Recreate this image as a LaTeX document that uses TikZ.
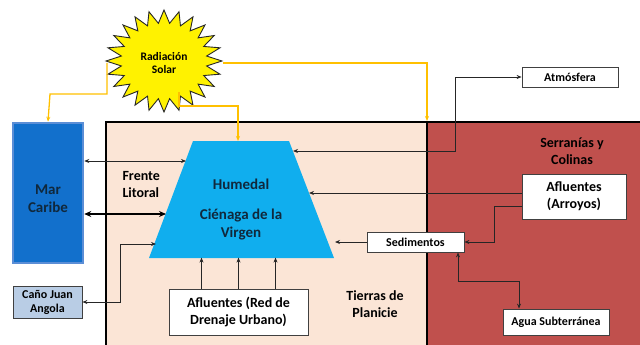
\documentclass[tikz,border=0pt]{standalone}
\usepackage{fontspec}
\setmainfont{Carlito}
\usetikzlibrary{arrows.meta}
\definecolor{peach}{HTML}{FBE5D6}
\definecolor{brick}{HTML}{C0504D}
\definecolor{seablue}{HTML}{1270CC}
\definecolor{seaedge}{HTML}{5B8ED6}
\definecolor{wetland}{HTML}{10AEEE}
\definecolor{sunline}{HTML}{FFC000}
\definecolor{navytext}{HTML}{10283C}
\definecolor{canofill}{HTML}{B9CDE5}
\begin{document}
\begin{tikzpicture}[x=1pt, y=-1pt,
        font=\bfseries\fontsize{14}{17}\selectfont,
        >={Stealth[length=5pt,width=4pt]},
        flow/.style={draw=black!85, line width=0.8pt},
        solar/.style={draw=sunline, line width=1.3pt},
        labelbox/.style={draw=black!75, fill=white, line width=0.8pt, align=center, inner sep=0pt},
        small/.style={font=\bfseries\fontsize{12}{14}\selectfont}]
        \useasboundingbox (0,0) rectangle (640,345);

        % Two zones: plain and hills
        \fill[peach] (106,122) rectangle (427,345);
        \fill[brick] (427,122) rectangle (640,345);
        \draw[line width=2.6pt] (106,345) -- (106,122) -- (640,122);
        \draw[line width=2.6pt] (427,122) -- (427,345);
        \node (tierras) at (375,304) [align=center] {Tierras de\\Planicie};
        \node (serranias) at (572,151) [align=center] {Serranías y\\Colinas};

        % The sun
        \filldraw[fill=yellow, draw=black!85, line width=0.9pt]
            plot[samples at={0,...,47}]
            ({164+(58-15*mod(\x,2))*cos(\x*7.5)}, {61+(51-13*mod(\x,2))*sin(\x*7.5)}) -- cycle;
        \node[align=center, font=\bfseries\fontsize{11.5}{13.5}\selectfont] (sun) at (164,63) {Radiación\\Solar};

        % Caribbean sea and the channel
        \node[draw=seaedge, fill=seablue, line width=2.5pt, minimum width=70pt, minimum height=140pt] (mar) at (48,193) {};
        \node[text=navytext, align=center, font=\bfseries\fontsize{15}{18}\selectfont] (martext) at (48,199) {Mar\\Caribe};
        \node[labelbox, small, fill=canofill, minimum width=69pt, minimum height=32pt] (cano) at (47.5,302) {Caño Juan\\Angola};

        % Wetland as a trapezoid
        \fill[wetland] (193,141) coordinate (htl) -- (289,141) coordinate (htr)
            -- (334,258) coordinate (hbr) -- (149,258) coordinate (hbl) -- cycle;
        \node[text=navytext, align=center, font=\bfseries\fontsize{15}{18}\selectfont] (hum) at (241,210)
            {Humedal\\[12pt]Ciénaga de la\\Virgen};
        \node[align=left, anchor=west] (frente) at (119,185) {Frente\\Litoral};

        % Points on the wetland edges
        \coordinate (hL1) at (186,161);
        \coordinate (hL2) at (166,214);
        \coordinate (hL3) at (156,244);
        \coordinate (hR1) at (293,151);
        \coordinate (hR2) at (309,193);
        \coordinate (hR3) at (335,242);

        % Boxes
        \node[labelbox, minimum width=139pt, minimum height=46pt] (urb) at (238.5,312) {Afluentes (Red de\\Drenaje Urbano)};
        \node[labelbox, small, minimum width=97pt, minimum height=20pt] (sed) at (415.5,242) {Sedimentos};
        \node[labelbox, minimum width=104pt, minimum height=45pt] (arr) at (574,196.5) {Afluentes\\(Arroyos)};
        \node[labelbox, small, minimum width=106pt, minimum height=26pt] (agua) at (556,322) {Agua Subterránea};
        \node[labelbox, small, minimum width=96pt, minimum height=20pt] (atm) at (570,77) {Atmósfera};

        % Solar radiation lines
        \draw[solar, ->] (107,63) -- (107,94) -- (50,94) -- (mar.north);
        \draw[solar, ->] (179,92) -- (179,106) -- (238,106) -- (htl -| 238,0);
        \draw[solar, ->] (223,63) -- (427,63) -- (427,121);

        % Exchanges with the sea
        \draw[flow, <->] (hL1 -| mar.east) -- (hL1);
        \draw[<->, line width=2.2pt, >={Stealth[length=7pt,width=6pt]}] (hL2 -| mar.east) -- (hL2);
        \draw[flow, <->] (cano.east) -- ++(38,0) |- (hL3);

        % Urban drainage into the wetland
        \foreach \dx in {-37,0,37}
        \draw[flow, ->] ([xshift=\dx pt]urb.north) -- ++(0,-31);

        % Inputs from the hills
        \draw[flow, <->] (hR1) -- (455,151) |- (atm.west);
        \draw[flow, ->] (hR2 -| arr.west) -- (hR2);
        \draw[flow, ->] ([yshift=-10pt]arr.west) -- ++(-27,0) |- (sed.east);
        \draw[flow, ->] (sed.west) -- (hR3);
        \draw[flow, <->] ([xshift=42.5pt]sed.south) -- ++(0,29) -| ([xshift=-37pt]agua.north);
    \end{tikzpicture}
\end{document}
